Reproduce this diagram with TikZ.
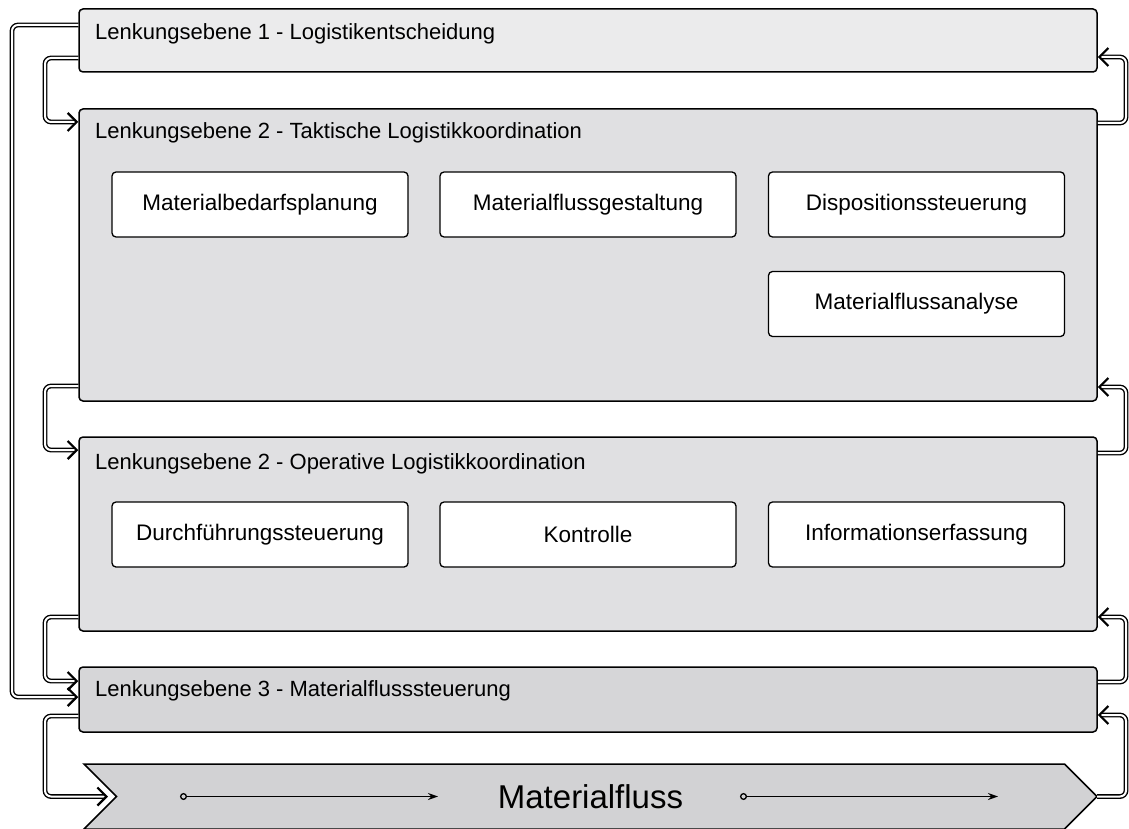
\documentclass[tikz,border=0pt]{standalone}
\usepackage{fontspec}
\setmainfont{Liberation Sans}
\usetikzlibrary{arrows.meta,shapes.symbols}
\definecolor{lvlA}{HTML}{EBEBEC}
\definecolor{lvlB}{HTML}{E0E0E2}
\definecolor{lvlC}{HTML}{D6D6D8}
\definecolor{flowgray}{HTML}{D2D2D4}
\tikzset{
  level/.style={draw, line width=1.5pt, rounded corners=4pt, minimum width=1018pt},
  title/.style={anchor=west, inner sep=0pt, font=\fontsize{22}{26}\selectfont},
  task/.style={draw, fill=white, line width=1.3pt, rounded corners=4pt,
    minimum width=296pt, minimum height=65pt, font=\fontsize{22.5}{26}\selectfont},
  link/.style={double, double distance=2pt, line width=1.4pt, rounded corners=6pt,
    -{Straight Barb[length=9pt,width=18pt,line width=2.2pt]}},
  stream/.style={line width=1.3pt, {Circle[open,length=7pt]}-{Stealth[length=10pt,width=7pt]}}
}
\begin{document}
\begin{tikzpicture}[x=1pt, y=-1pt]
  \useasboundingbox (0,0) rectangle (1129,829);
  % levels
  \node[level, fill=lvlA, minimum height=63pt] (l1) at (588,40.5) {};
  \node[level, fill=lvlB, minimum height=292pt] (l2) at (588,255) {};
  \node[level, fill=lvlB, minimum height=194pt] (l3) at (588,534) {};
  \node[level, fill=lvlC, minimum height=65pt] (l4) at (588,699.5) {};
  \node[title] (t1) at (95,34) {Lenkungsebene 1 - Logistikentscheidung};
  \node[title] (t2) at (95,133) {Lenkungsebene 2 - Taktische Logistikkoordination};
  \node[title] (t3) at (95,464) {Lenkungsebene 2 - Operative Logistikkoordination};
  \node[title] (t4) at (95,691) {Lenkungsebene 3 - Materialflusssteuerung};
  % tasks
  \node[task] (bedarf) at (260,204.5) {Materialbedarfsplanung};
  \node[task] (gestalt) at (588,204.5) {Materialflussgestaltung};
  \node[task] (dispo) at (916.5,204.5) {Dispositionssteuerung};
  \node[task] (analyse) at (916.5,304) {Materialflussanalyse};
  \node[task] (durch) at (260,534.5) {Durchführungssteuerung};
  \node[task] (kontr) at (588,534.5) {Kontrolle};
  \node[task] (info) at (916.5,534.5) {Informationserfassung};
  % material flow
  \node[signal, signal from=west, signal to=east, signal pointer angle=90,
    draw, line width=1.5pt, fill=flowgray, minimum width=1013pt, minimum height=65pt,
    inner sep=0pt, font=\fontsize{33}{38}\selectfont] (mf) at (590.5,796.5) {Materialfluss};
  \coordinate (mfnotch) at (108,796.5);
  \coordinate (mftip) at (1097,796.5);
  \draw[stream] (180,796.5) -- (438,796.5);
  \draw[stream] (740,796.5) -- (998,796.5);
  % downward links
  \draw[link] (l1.west |- 0,25) -- (12,25) -- (12,697) -- (l4.west |- 0,697);
  \draw[link] (l1.west |- 0,58) -- (45,58) -- (45,122) -- (l2.west |- 0,122);
  \draw[link] (l2.west |- 0,386) -- (45,386) -- (45,450) -- (l3.west |- 0,450);
  \draw[link] (l3.west |- 0,617) -- (45,617) -- (45,681) -- (l4.west |- 0,681);
  \draw[link] (l4.west |- 0,716) -- (45,716) -- (45,796.5) -- (mfnotch);
  % feedback links
  \draw[link] (l2.east |- 0,123) -- (1126,123) -- (1126,57) -- (l1.east |- 0,57);
  \draw[link] (l3.east |- 0,453) -- (1126,453) -- (1126,387) -- (l2.east |- 0,387);
  \draw[link] (l4.east |- 0,682) -- (1126,682) -- (1126,617) -- (l3.east |- 0,617);
  \draw[link] (mftip) -- (1126,796.5) -- (1126,715) -- (l4.east |- 0,715);
\end{tikzpicture}
\end{document}
